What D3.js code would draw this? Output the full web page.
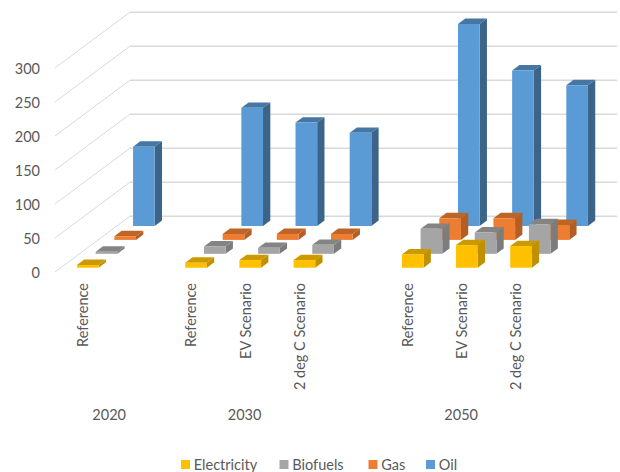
<!DOCTYPE html>
<html>
<head>
<meta charset="utf-8">
<script src="https://cdn.jsdelivr.net/npm/d3@7.9.0/dist/d3.min.js"></script>
<style>
  html, body { margin: 0; background: #fff; }
  text { font-family: Lato, "Open Sans", sans-serif; fill: #595959; }
</style>
</head>
<body>
<div id="vis"></div>
<script>
const width = 620, height = 472;

// blank slots separate the year groups
const categories = ["Reference", "", "Reference", "EV Scenario", "2 deg C Scenario", "", "Reference", "EV Scenario", "2 deg C Scenario"];
const years = ["2020", "2030", "2050"];
const yearSlots = [0.5, 3, 7];
const ticks = [0, 50, 100, 150, 200, 250, 300];

const seriesNames = ["Electricity", "Biofuels", "Gas", "Oil"];
const electricity = [4, null, 7.3, 11.3, 11.3, null, 19.6, 33.3, 31.9];
const biofuels = [3, null, 10.8, 8.8, 13.2, null, 36.7, 31.3, 43.6];
const gas = [5.4, null, 8.8, 8.8, 8.8, null, 31.8, 31.8, 22];
const oil = [116.5, null, 173.7, 152, 137, null, 297, 228.6, 207];
const seriesValues = [electricity, biofuels, gas, oil];

// front, side, top
const seriesColors = [
  ["#FFC000", "#BF9000", "#CC9A00"],
  ["#A5A5A5", "#7C7C7C", "#848484"],
  ["#ED7D31", "#B25E25", "#BE6427"],
  ["#5B9BD5", "#3B6488", "#4676A3"]
];

// oblique projection of the box: floor runs back and to the right
const x0 = 55, y0 = 272;
const depthX = 74.8, depthY = 55.7;

const x = d3.scaleBand()
  .domain(d3.range(categories.length))
  .range([x0, x0 + 487.4])
  .paddingInner(0.6)
  .paddingOuter(0.3);

const y = d3.scaleLinear().domain([0, 300]).range([0, -204]);

const z = d3.scaleBand()
  .domain(d3.range(seriesNames.length))
  .range([0, 1])
  .paddingInner(0.61)
  .paddingOuter(0.305);

const project = (px, pz, v) => [px + pz * depthX, y0 + y(v) - pz * depthY];
const poly = pts => pts.map(p => p.join(",")).join(" ");

const svg = d3.select("#vis").append("svg")
  .attr("width", width)
  .attr("height", height)
  .attr("viewBox", `0 0 ${width} ${height}`)
  .style("display", "block");

// gridlines: side wall then back wall
const xEnd = x0 + 487.4;
const grid = svg.append("g").attr("fill", "none");
ticks.forEach(t => {
  const a = project(x0, 0, t), b = project(x0, 1, t), c = project(xEnd, 1, t);
  grid.append("line")
    .attr("x1", a[0]).attr("y1", a[1]).attr("x2", b[0]).attr("y2", b[1])
    .attr("stroke", "#D9D9D9").attr("stroke-width", 1);
  grid.append("line")
    .attr("x1", b[0]).attr("y1", b[1]).attr("x2", c[0]).attr("y2", c[1])
    .attr("stroke", "#D9D9D9").attr("stroke-width", 1.4);
});

// value axis
svg.append("g").selectAll("text")
  .data(ticks)
  .join("text")
  .attr("x", 40)
  .attr("y", d => y0 + y(d) + 0.7)
  .attr("text-anchor", "end")
  .attr("dominant-baseline", "central")
  .style("font-size", "14.5px")
  .text(d => d);

// back row first so nearer boxes cover it
d3.range(seriesNames.length).reverse().forEach(s => {
  const colors = seriesColors[s];
  const g = svg.append("g").attr("class", "series");
  const zf = z(s), zb = z(s) + z.bandwidth();

  seriesValues[s].forEach((v, i) => {
    if (v == null) return;
    const l = x(i), r = x(i) + x.bandwidth();
    g.append("polygon")
      .attr("fill", colors[2])
      .attr("points", poly([project(l, zf, v), project(r, zf, v), project(r, zb, v), project(l, zb, v)]));
    g.append("polygon")
      .attr("fill", colors[1])
      .attr("points", poly([project(r, zf, 0), project(r, zb, 0), project(r, zb, v), project(r, zf, v)]));
    g.append("polygon")
      .attr("fill", colors[0])
      .attr("points", poly([project(l, zf, 0), project(r, zf, 0), project(r, zf, v), project(l, zf, v)]));
  });
});

// category labels, read bottom to top and hung from the axis
svg.append("g").selectAll("text")
  .data(categories.map((c, i) => ({ c, i })).filter(d => d.c))
  .join("text")
  .attr("transform", d => `translate(${x(d.i) + x.bandwidth() / 2 + 0.6},283) rotate(-90)`)
  .attr("text-anchor", "end")
  .attr("dominant-baseline", "central")
  .style("font-size", "14.5px")
  .text(d => d.c);

// year labels
svg.append("g").selectAll("text")
  .data(years)
  .join("text")
  .attr("x", (d, i) => x0 + x.step() * (yearSlots[i] + 0.5))
  .attr("y", 414)
  .attr("text-anchor", "middle")
  .attr("dominant-baseline", "central")
  .style("font-size", "14.5px")
  .text(d => d);

// legend
const legendX = [181, 279.5, 368.5, 426];
const legend = svg.append("g").selectAll("g")
  .data(seriesNames)
  .join("g")
  .attr("transform", (d, i) => `translate(${legendX[i]},460)`);

legend.append("rect")
  .attr("width", 9)
  .attr("height", 9)
  .attr("fill", (d, i) => seriesColors[i][0]);

legend.append("text")
  .attr("x", 12.8)
  .attr("y", 4.5)
  .attr("dominant-baseline", "central")
  .style("font-size", "14.5px")
  .text(d => d);
</script>
</body>
</html>
